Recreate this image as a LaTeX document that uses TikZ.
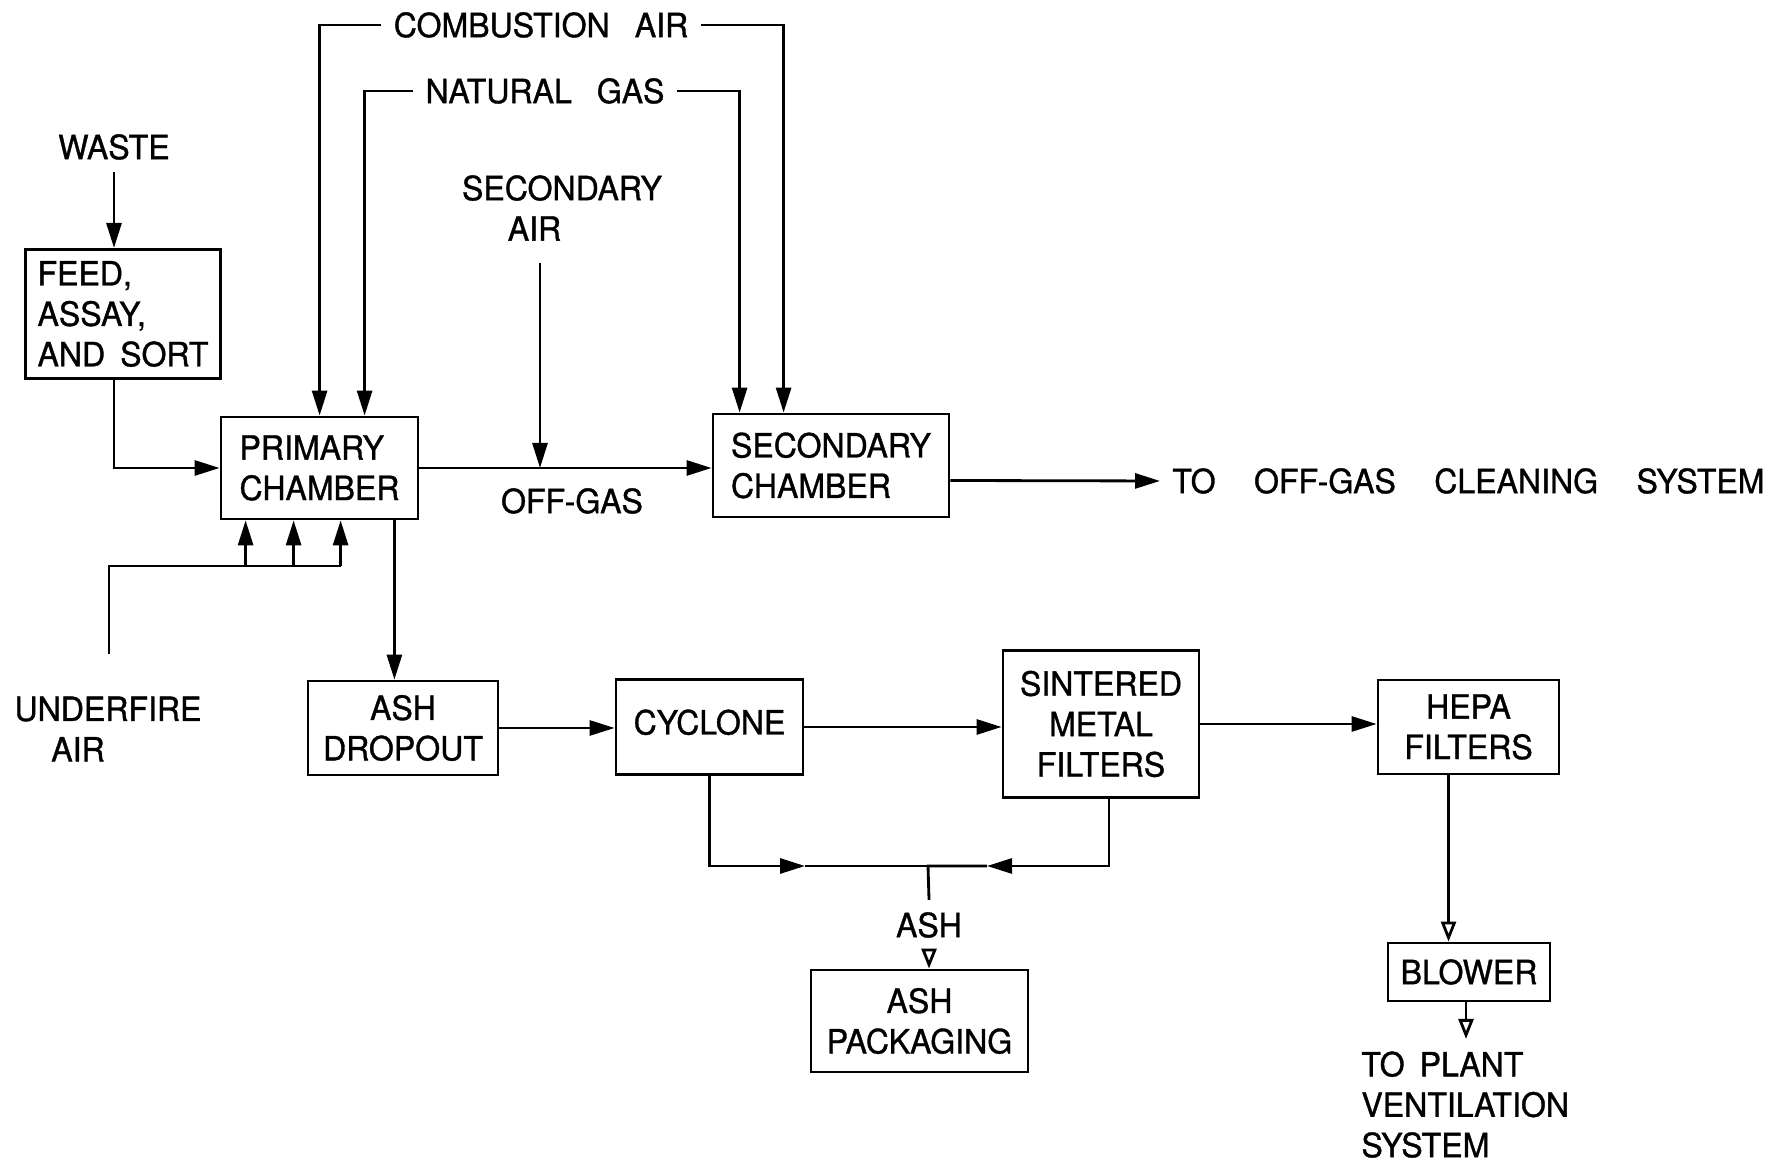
\documentclass[tikz,border=0pt]{standalone}
\usepackage{fontspec}
\setmainfont{TeX Gyre Heros}[FakeStretch=0.96, FakeBold=1]
\usetikzlibrary{arrows.meta}
\newcommand\rotulo{\fontsize{9.5}{11.5}\selectfont\spaceskip=0.45em plus 0.1em\relax}
\newcommand\rotuloancho{\fontsize{9.5}{11.5}\selectfont\spaceskip=0.75em plus 0.1em\relax}

\begin{document}
\begin{tikzpicture}[every node/.style={font=\rotulo},
  caja/.style={draw, thick, align=left},
  flecha/.style={thick, -{Triangle[length=2.5mm,width=1.5mm]}},
  flechab/.style={thick, -{Triangle[open,length=2mm,width=1.5mm]}}]
  \useasboundingbox (0,0) rectangle (17.65,11.64);
  % cajas
  \node[caja, minimum width=1.90cm, minimum height=1.28cm] (feed) at (1.23,8.50) {FEED,\\ASSAY,\\ AND SORT};
  \node[caja, minimum width=1.97cm, minimum height=1.02cm] (prim) at (3.195,6.96) {PRIMARY\\CHAMBER};
  \node[caja, minimum width=2.36cm, minimum height=1.03cm] (sec) at (8.31,6.985) {SECONDARY\\CHAMBER};
  \node[caja, align=center, minimum width=1.90cm, minimum height=0.94cm] (ashd) at (4.03,4.36) {ASH\\DROPOUT};
  \node[caja, minimum width=1.87cm, minimum height=0.95cm, text height=2.3mm, text depth=0.8mm] (cyc) at (7.095,4.37) {CYCLONE};
  \node[caja, align=center, minimum width=1.96cm, minimum height=1.47cm] (sint) at (11.01,4.40) {SINTERED\\METAL\\FILTERS};
  \node[caja, align=center, minimum width=1.81cm, minimum height=0.94cm] (hepa) at (14.685,4.37) {HEPA\\FILTERS};
  \node[caja, minimum width=1.62cm, minimum height=0.58cm] (blow) at (14.69,1.92) {BLOWER};
  \node[caja, align=center, minimum width=2.17cm, minimum height=1.02cm] (pack) at (9.195,1.43) {ASH\\PACKAGING};
  % rotulos
  \node (waste) at (1.14,10.17) {WASTE};
  \node[font=\rotuloancho] (comb) at (5.41,11.39) {COMBUSTION AIR};
  \node[font=\rotuloancho] (gas) at (5.45,10.73) {NATURAL GAS};
  \node[align=center] (secair) at (5.62,9.56) {SECONDARY\\AIR\hspace*{0.55cm}};
  \node (offgas) at (5.72,6.63) {OFF-GAS};
  \node[font={\rotuloancho\spaceskip=1.15em\relax}, anchor=west] (clean) at (11.60,6.83) {TO OFF-GAS CLEANING SYSTEM};
  \node[align=center] (uf) at (1.08,4.35) {UNDERFIRE\\AIR\hspace*{0.60cm}};
  \node (ash) at (9.29,2.39) {ASH};
  \node[align=left, anchor=north west] (plant) at (13.49,1.25) {TO PLANT\\VENTILATION\\ SYSTEM};
  \coordinate (mix) at (5.40,6.96);
  \coordinate (ufb) at (1.09,5.98);
  \coordinate (jun) at (9.28,2.98);
  \coordinate (pc1) at (8.05,2.98);
  \coordinate (pc2) at (9.87,2.98);
  % lineas
  \draw[flecha] (waste.south) -- (waste.south |- feed.north);
  \draw[flecha] (waste.south |- feed.south) |- (prim.west);
  \draw[flecha] (comb.west) -| ([xshift=1.00cm]prim.north west);
  \draw[flecha] (comb.east) -| ([xshift=0.72cm]sec.north west);
  \draw[flecha] (gas.west) -| ([xshift=1.45cm]prim.north west);
  \draw[flecha] (gas.east) -| ([xshift=0.28cm]sec.north west);
  \draw[flecha] (prim.east) -- (prim.east -| sec.west);
  \draw[flecha] ([yshift=-1mm]secair.south -| mix) -- (mix);
  \draw[flecha] ([yshift=-1.5mm]sec.east) -- (clean.west);
  \draw[thick] ([yshift=3mm]uf.north -| ufb) -- (ufb) -- ([xshift=1.21cm]prim.south west |- ufb);
  \foreach \dx in {0.26,0.74,1.21}
    \draw[flecha] ([xshift=\dx cm]prim.south west |- ufb) -- ([xshift=\dx cm]prim.south west);
  \draw[flecha] ([xshift=-2.5mm]prim.south east) -- ([xshift=-2.5mm]prim.south east |- ashd.north);
  \draw[flecha] (ashd.east) -- (ashd.east -| cyc.west);
  \draw[flecha] (cyc.east) -- (cyc.east -| sint.west);
  \draw[flecha] (sint.east) -- (sint.east -| hepa.west);
  \draw[flecha] (cyc.south) |- (pc1);
  \draw[thick] (pc1) -- (jun);
  \draw[flecha] ([xshift=0.8mm]sint.south) |- (pc2);
  \draw[thick] (pc2) -- (jun) -- (ash.north);
  \draw[flechab] (ash.south) -- (ash.south |- pack.north);
  \draw[flechab] ([xshift=-2mm]hepa.south) -- ([xshift=-2mm]hepa.south |- blow.north);
  \draw[flechab] ([xshift=-0.3mm]blow.south) -- ([xshift=-0.3mm]blow.south |- plant.north);
\end{tikzpicture}
\end{document}
